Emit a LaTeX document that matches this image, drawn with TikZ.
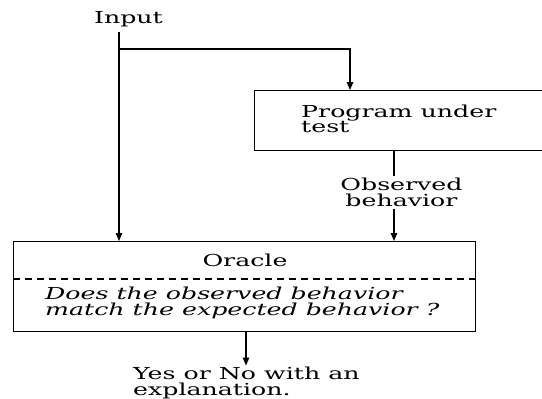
\documentclass[tikz,border=0pt]{standalone}
\usepackage{fontspec}
\setmainfont[FakeStretch=1.53]{DejaVu Serif}
\usetikzlibrary{arrows.meta, positioning}

\begin{document}
\begin{tikzpicture}[
        x=1pt, y=-1pt,
        box/.style={draw, line width=1.3pt, inner sep=0pt},
        lbl/.style={inner sep=0pt, align=left, font=\fontsize{16.5}{15.5}\selectfont},
        line/.style={line width=1.3pt},
        arr/.style={-{Triangle[length=8pt, width=6.5pt]}, line width=1.3pt}
    ]
        \useasboundingbox (0,0) rectangle (542,399);
        % labels and boxes
        \node[lbl, anchor=base, inner ysep=5pt] (input) at (128.5,23) {Input};
        \node[box, anchor=north west, minimum width=300pt, minimum height=60pt] (prog) at (254,90) {};
        \node[lbl, anchor=west] (progtxt) at (301,119) {Program under\\test};
        \node[lbl, align=center, inner ysep=2pt] (obs) at (401.5,192.5) {Observed\\behavior};
        \node[box, anchor=north west, minimum width=462pt, minimum height=90pt] (oracle) at (13,241) {};
        \node[lbl, anchor=base] (oracletxt) at (245,266) {Oracle};
        \node[lbl, anchor=west, font=\fontsize{16.5}{15.5}\selectfont\itshape] (question) at (45,303)
            {Does the observed behavior\\match the expected behavior ?};
        \node[lbl, anchor=west, inner ysep=1.5pt] (yes) at (133,383) {Yes or No with an\\explanation.};
        % dashed divider
        \path (oracle.north west) ++(0,38) coordinate (divw);
        \draw[line, dash pattern=on 7pt off 5pt] (divw) -- (divw -| oracle.east);
        % connectors
        \coordinate (fork) at (119,49);
        \coordinate (obsx) at (394,0);
        \coordinate (outx) at (246,0);
        \draw[arr] (input.south -| fork) -- (oracle.north -| fork);
        \draw[arr] (fork) -| ([xshift=96pt]prog.north west);
        \draw[line] (prog.south -| obsx) -- (obs.north -| obsx);
        \draw[arr] (obs.south -| obsx) -- (oracle.north -| obsx);
        \draw[arr] (oracle.south -| outx) -- (yes.north -| outx);
    \end{tikzpicture}
\end{document}
